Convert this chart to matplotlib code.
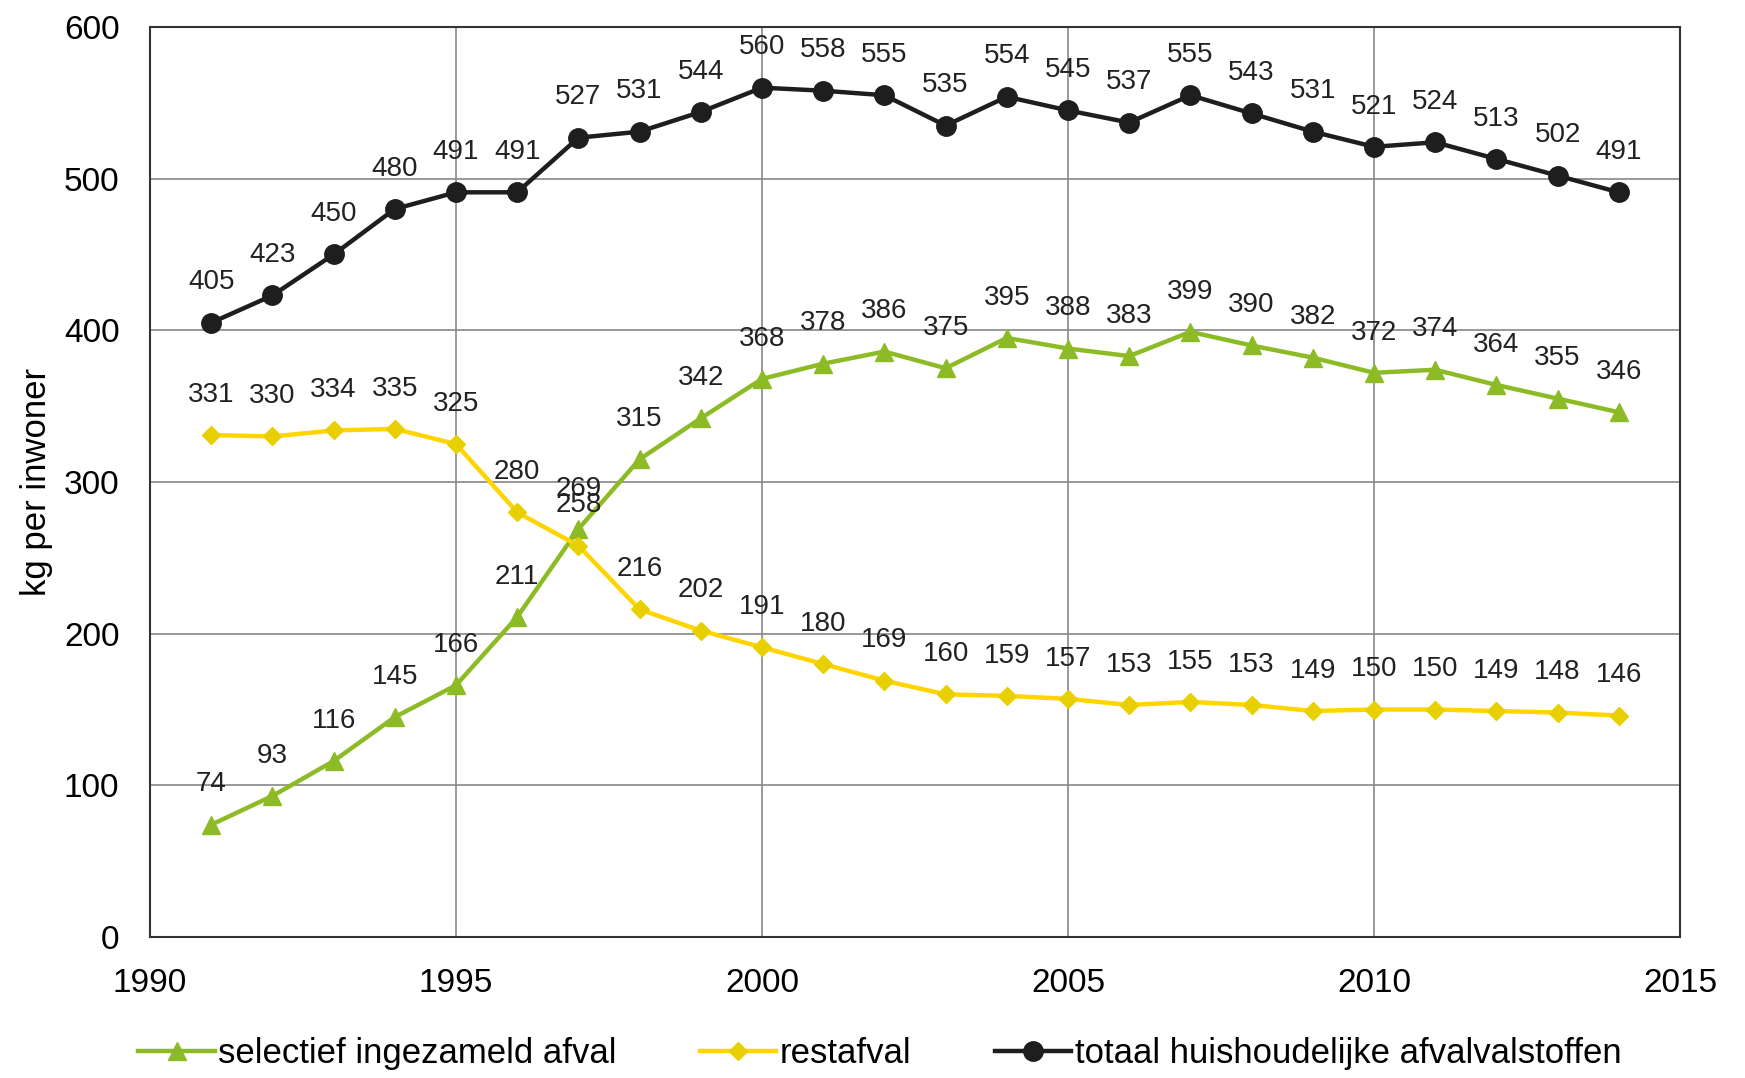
import matplotlib
matplotlib.use('Agg')
import matplotlib.pyplot as plt
import numpy as np

plt.rcParams['font.family'] = ['Liberation Sans', 'DejaVu Sans']

years = list(range(1991, 2015))
totaal = [405, 423, 450, 480, 491, 491, 527, 531, 544, 560, 558, 555, 535, 554,
          545, 537, 555, 543, 531, 521, 524, 513, 502, 491]
selectief = [74, 93, 116, 145, 166, 211, 269, 315, 342, 368, 378, 386, 375, 395,
             388, 383, 399, 390, 382, 372, 374, 364, 355, 346]
restafval = [331, 330, 334, 335, 325, 280, 258, 216, 202, 191, 180, 169, 160, 159,
             157, 153, 155, 153, 149, 150, 150, 149, 148, 146]

fig = plt.figure(figsize=(17.45, 10.78), dpi=100)
ax = fig.add_axes([150/1745, 1-937/1078, 1530/1745, 910/1078])

green = '#8DBB25'
yellow = '#FFD400'
black = '#1E1E1E'

ax.plot(years, selectief, color=green, lw=3.2, marker='^', ms=13, label='selectief ingezameld afval', zorder=3)
ax.plot(years, restafval, color=yellow, lw=3.2, marker='D', ms=9, mfc='#E8D000', mec='#E8D000',
        label='restafval', zorder=3)
ax.plot(years, totaal, color=black, lw=3.2, marker='o', ms=14, label='totaal huishoudelijke afvalvalstoffen', zorder=4)

for series in (selectief, restafval, totaal):
    for x, y in zip(years, series):
        ax.annotate(str(y), (x, y), xytext=(0, 29), textcoords='offset points',
                    ha='center', va='center', fontsize=20, color='#222222')

ax.set_xlim(1990, 2015)
ax.set_ylim(0, 600)
ax.set_xticks(range(1990, 2016, 5))
ax.set_yticks(range(0, 601, 100))
ax.grid(True, color='#888888', lw=1.2)
ax.set_axisbelow(True)
ax.tick_params(length=0, labelsize=24)
ax.tick_params(axis='y', pad=22)
ax.tick_params(axis='x', pad=22)
for s in ax.spines.values():
    s.set_color('#333333')
    s.set_linewidth(1.5)
ax.set_ylabel('kg per inwoner', fontsize=25, labelpad=8)

ax.legend(loc='center', bbox_to_anchor=(0.477, -0.128), ncol=3, frameon=False,
          fontsize=25, handlelength=2.2, handletextpad=0.1, columnspacing=2.4)

fig.savefig('out.png', dpi=100)
